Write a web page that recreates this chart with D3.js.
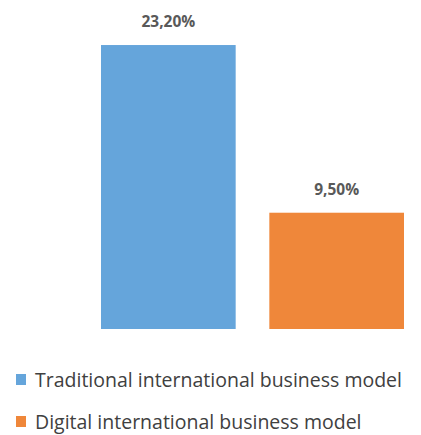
<!DOCTYPE html>
<html>
<head>
<meta charset="utf-8">
<script src="https://cdn.jsdelivr.net/npm/d3@7"></script>
<style>
  body { margin: 0; background: #fff; }
  svg { display: block; }
</style>
</head>
<body>
<svg id="chart" width="421" height="435"></svg>
<script>
var categories = ['Traditional international business model', 'Digital international business model'];
var values = [23.2, 9.5];
var labels = ['23,20%', '9,50%'];
var colors = ['#65a5db', '#ef873a'];

var svg = d3.select('#chart');

var x = d3.scaleBand()
  .domain(categories)
  .range([101, 404])
  .paddingInner(0.2)
  .paddingOuter(0);

var y = d3.scaleLinear()
  .domain([0, 25])
  .range([329, 23]);

var color = d3.scaleOrdinal().domain(categories).range(colors);

// bars
svg.selectAll('rect.bar')
  .data(categories)
  .enter()
  .append('rect')
  .attr('class', 'bar')
  .attr('x', function(d) { return x(d); })
  .attr('y', function(d, i) { return y(values[i]); })
  .attr('width', x.bandwidth())
  .attr('height', function(d, i) { return y(0) - y(values[i]); })
  .attr('fill', function(d) { return color(d); });

// value labels
svg.selectAll('text.val')
  .data(categories)
  .enter()
  .append('text')
  .attr('class', 'val')
  .attr('x', function(d) { return x(d) + x.bandwidth() / 2; })
  .attr('y', function(d, i) { return y(values[i]) - 18; })
  .attr('text-anchor', 'middle')
  .attr('font-family', 'Open Sans, sans-serif')
  .attr('font-weight', 'bold')
  .attr('font-size', 15.5)
  .attr('fill', '#595959')
  .text(function(d, i) { return labels[i]; });

// legend
var legend = svg.selectAll('g.legend')
  .data(categories)
  .enter()
  .append('g')
  .attr('class', 'legend')
  .attr('transform', function(d, i) { return 'translate(16,' + (374 + i * 42) + ')'; });

legend.append('rect')
  .attr('width', 10)
  .attr('height', 11)
  .attr('fill', function(d) { return color(d); });

legend.append('text')
  .attr('x', 19)
  .attr('y', 12.5)
  .attr('font-family', 'Open Sans, sans-serif')
  .attr('font-size', 19.5)
  .attr('fill', '#404040')
  .text(function(d) { return d; });
</script>
</body>
</html>
